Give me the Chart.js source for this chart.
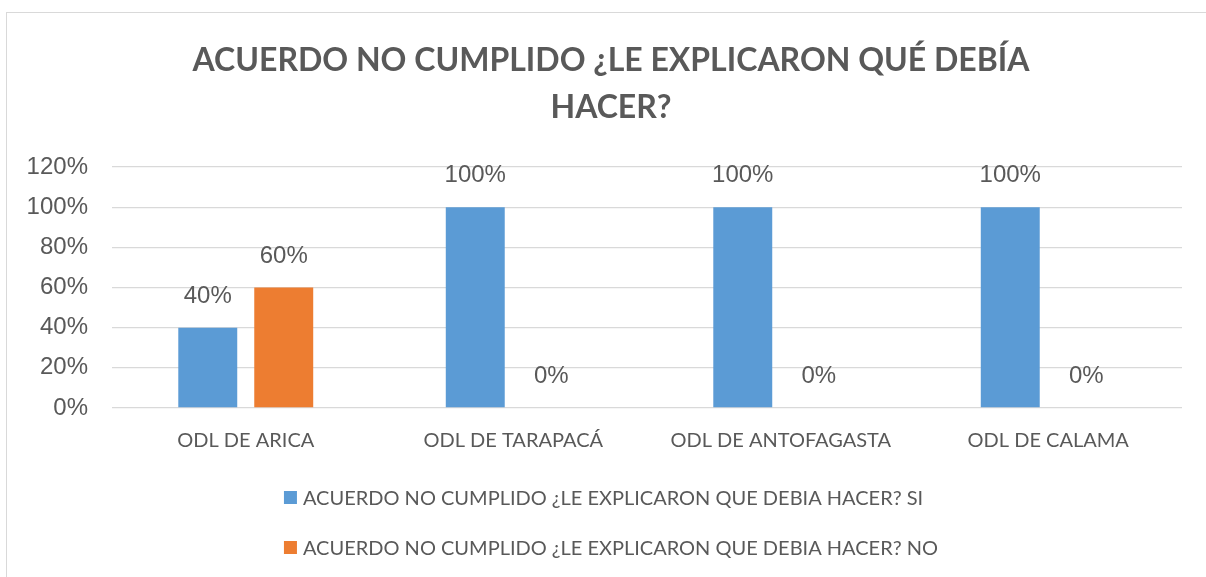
<!DOCTYPE html>
<html><head><meta charset="utf-8">
<script src="https://cdn.jsdelivr.net/npm/chart.js@4/dist/chart.umd.min.js"></script>
<style>
html,body{margin:0;padding:0;background:#fff;overflow:hidden;}
#wrap{position:relative;width:1206px;height:577px;overflow:hidden;}
#frame{position:absolute;left:6px;top:12px;width:1240px;height:620px;border-left:1.5px solid #d9d9d9;border-top:1.5px solid #d9d9d9;box-sizing:border-box;}
canvas{position:absolute;left:0;top:0;}
</style></head><body>
<div id="wrap"><div id="frame"></div><canvas id="c" width="1206" height="577"></canvas></div>
<script>
const titleLines = ["ACUERDO NO CUMPLIDO ¿LE EXPLICARON QUÉ DEBÍA", "HACER?"];
const categories = ["ODL DE ARICA", "ODL DE TARAPACÁ", "ODL DE ANTOFAGASTA", "ODL DE CALAMA"];
const seriesNames = [
  "ACUERDO NO CUMPLIDO ¿LE EXPLICARON QUE DEBIA HACER? SI",
  "ACUERDO NO CUMPLIDO ¿LE EXPLICARON QUE DEBIA HACER? NO"
];
const siValues = [40, 100, 100, 100];
const noValues = [60, 0, 0, 0];
const seriesColors = ["#5B9BD5", "#ED7D31"];
const yMin = 0, yMax = 120, yStep = 20;

const textColor = "#595959";

// shift the title's centring box so it is centred like the original frame
const titleShiftPlugin = {
  id: "titleShift",
  afterLayout(chart) {
    if (chart.titleBlock) chart.titleBlock.left = 40;
  }
};

const labelPlugin = {
  id: "valueLabels",
  afterDatasetsDraw(chart) {
    const ctx = chart.ctx;
    ctx.save();
    ctx.font = "24px 'Liberation Sans', Arial, sans-serif";
    ctx.fillStyle = textColor;
    ctx.textAlign = "center";
    ctx.textBaseline = "alphabetic";
    chart.data.datasets.forEach((ds, di) => {
      const meta = chart.getDatasetMeta(di);
      meta.data.forEach((bar, i) => {
        ctx.fillText(ds.data[i] + "%", bar.x, bar.y - 25);
      });
    });
    ctx.restore();
  }
};

const legendPlugin = {
  id: "blockLegend",
  afterDraw(chart) {
    const ctx = chart.ctx;
    ctx.save();
    ctx.font = "20px Lato, sans-serif";
    const widths = chart.data.datasets.map(ds => ctx.measureText(ds.label).width);
    const maxW = 19 + Math.max(...widths);
    const tb = chart.titleBlock;
    const cx = (tb.left + tb.right) / 2;
    const x0 = cx - maxW / 2;
    const base = chart.chartArea.bottom;
    chart.data.datasets.forEach((ds, i) => {
      const top = base + 83 + i * 50;
      ctx.fillStyle = ds.backgroundColor;
      ctx.fillRect(x0, top, 13, 13);
      ctx.fillStyle = textColor;
      ctx.textAlign = "left";
      ctx.textBaseline = "alphabetic";
      ctx.fillText(ds.label, x0 + 19, top + 14);
    });
    ctx.restore();
  }
};

new Chart(document.getElementById("c"), {
  type: "bar",
  data: {
    labels: categories,
    datasets: [
      { label: seriesNames[0], data: siValues, backgroundColor: seriesColors[0] },
      { label: seriesNames[1], data: noValues, backgroundColor: seriesColors[1] }
    ]
  },
  options: {
    responsive: false,
    animation: false,
    layout: { padding: { left: 0, right: 24, top: 0, bottom: 109 } },
    datasets: { bar: { categoryPercentage: 0.568, barPercentage: 0.776 } },
    plugins: {
      legend: { display: false },
      tooltip: { enabled: false },
      title: {
        display: true,
        text: titleLines,
        color: textColor,
        font: { family: "Lato, sans-serif", size: 32, weight: "bold", lineHeight: 47 / 32 },
        padding: { top: 37, bottom: 36 }
      }
    },
    scales: {
      x: {
        grid: { display: false },
        border: { display: false },
        ticks: { color: textColor, font: { family: "Lato, sans-serif", size: 20 }, padding: 13, maxRotation: 0, autoSkip: false },
        afterFit(scale) { scale.height = 60; }
      },
      y: {
        min: yMin, max: yMax,
        grid: { color: "#d9d9d9", lineWidth: 1.3, drawTicks: false },
        border: { display: false },
        ticks: {
          stepSize: yStep,
          color: textColor,
          padding: 24,
          font: { family: "'Liberation Sans', Arial, sans-serif", size: 24 },
          callback: v => v + "%"
        },
        afterFit(scale) { scale.width = 112; }
      }
    }
  },
  plugins: [titleShiftPlugin, labelPlugin, legendPlugin]
});
</script>
</body></html>
